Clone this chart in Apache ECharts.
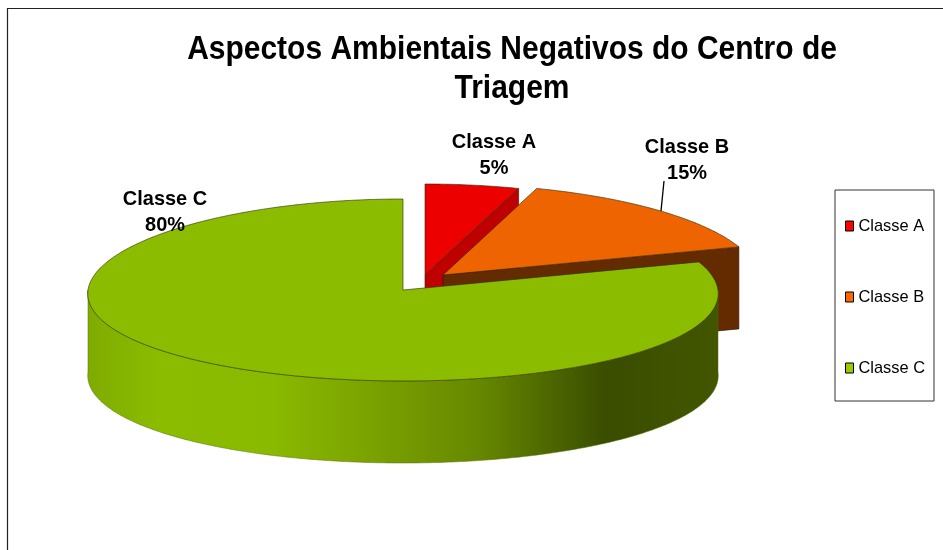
<!DOCTYPE html>
<html><head><meta charset="utf-8">
<style>html,body{margin:0;padding:0;background:#fff}#c{width:943px;height:550px}</style>
<script src="https://cdn.jsdelivr.net/npm/echarts@6/dist/echarts.min.js"></script>
</head><body><div id="c"></div>
<script>
var categories = ['Classe A', 'Classe B', 'Classe C'];
var values = [5, 15, 80];
var titleText = 'Aspectos Ambientais Negativos do Centro de\nTriagem';

var CX = 403, CY = 290, RX = 315, RY = 91, DEPTH = 82, PERSPECTIVE = 0.04;
var topColors = ['#EC0000', '#EE6400', '#8BBC00'];
var cutColors = ['#BF0000', '#652B00', '#3F5400'];
var legendColors = ['#FF0000', '#FF6600', '#99CC00'];
var offsets = [[22, -15], [40, -15], [0, 0]];
var labelPos = [[494, 155], [687, 160], [165, 212]];
var total = values.reduce(function (a, b) { return a + b; }, 0);
var FONT = '"Liberation Sans", Arial, sans-serif';

function rim(cx, cy, deg) {
  var r = deg * Math.PI / 180, c = Math.cos(r);
  return [cx + RX * Math.sin(r) * (1 - PERSPECTIVE * c), cy - RY * c];
}
function arc(cx, cy, a, b) {
  var pts = [], n = Math.max(2, Math.ceil(Math.abs(b - a) * 1.5));
  for (var i = 0; i <= n; i++) pts.push(rim(cx, cy, a + (b - a) * i / n));
  return pts;
}
var wallFill = {
  type: 'linear', global: true, x: CX - RX, y: 0, x2: CX + RX, y2: 0,
  colorStops: [
    { offset: 0, color: '#7FAB00' }, { offset: 0.11, color: '#8BBC00' },
    { offset: 0.29, color: '#8ABA00' }, { offset: 0.45, color: '#7AA200' },
    { offset: 0.62, color: '#668800' }, { offset: 0.82, color: '#3A4D00' },
    { offset: 1, color: '#425600' }
  ]
};
function shape(points, fill, stroke, width) {
  return { type: 'polygon', shape: { points: points }, style: { fill: fill, stroke: stroke, lineWidth: width } };
}
function renderSlice(idx) {
  return function () {
    var before = 0;
    for (var i = 0; i < idx; i++) before += values[i];
    var a0 = before / total * 360, a1 = (before + values[idx]) / total * 360;
    var cx = CX + offsets[idx][0], cy = CY + offsets[idx][1];
    var children = [];
    if (idx < 2) {
      var p = rim(cx, cy, a1);
      children.push(shape([[cx, cy], p, [p[0], p[1] + DEPTH], [cx, cy + DEPTH]], cutColors[idx], '#2a1500', 0.6));
    }
    var wa0 = Math.max(a0, 90), wa1 = Math.min(a1, 270);
    if (wa1 > wa0) {
      var up = arc(cx, cy, wa0, wa1);
      var down = up.map(function (q) { return [q[0], q[1] + DEPTH]; }).reverse();
      children.push(shape(up.concat(down), wallFill, '#556f00', 0.5));
    }
    children.push(shape([[cx, cy]].concat(arc(cx, cy, a0, a1)), topColors[idx], '#2a2a00', 0.6));
    var pct = Math.round(values[idx] / total * 100) + '%';
    children.push({
      type: 'text', z2: 20, x: labelPos[idx][0], y: labelPos[idx][1], scaleX: 0.95,
      style: {
        text: categories[idx] + '\n' + pct, x: 0, y: 0,
        align: 'center', verticalAlign: 'middle', lineHeight: 26,
        font: 'bold 21px ' + FONT, fill: '#000'
      }
    });
    if (idx === 1) {
      children.push({ type: 'line', z2: 20, shape: { x1: 664, y1: 181, x2: 661, y2: 211 }, style: { stroke: '#000', lineWidth: 1.3 } });
    }
    return { type: 'group', children: children };
  };
}
var series = categories.map(function (name, i) {
  return {
    type: 'custom', name: name, coordinateSystem: 'none', silent: true,
    itemStyle: { color: legendColors[i] },
    data: [values[i]], renderItem: renderSlice(i), animation: false
  };
});
var chart = echarts.init(document.getElementById('c'), null, { renderer: 'canvas' });
chart.setOption({
  animation: false,
  legend: {
    orient: 'vertical', left: 835, top: 190, width: 99, height: 211,
    data: categories, icon: 'rect', itemWidth: 8, itemHeight: 10, itemGap: 55,
    padding: [28, 9, 25, 10], borderColor: '#333', borderWidth: 1, backgroundColor: '#fff', selectedMode: false,
    itemStyle: { borderColor: '#000', borderWidth: 1 },
    textStyle: { fontFamily: FONT, fontSize: 16.4, color: '#000', lineHeight: 16 }
  },
  graphic: [
    { type: 'polyline', silent: true, z: -1, shape: { points: [[7.5, 550], [7.5, 8.5], [943, 8.5]] }, style: { stroke: '#222', lineWidth: 1.2, fill: 'none' } },
    { type: 'text', silent: true, x: 512, y: 69.5, scaleX: 0.895,
      style: { text: titleText, x: 0, y: 0, align: 'center', verticalAlign: 'middle', lineHeight: 39, font: 'bold 33.5px ' + FONT, fill: '#000' } }
  ],
  series: series
});
</script></body></html>
